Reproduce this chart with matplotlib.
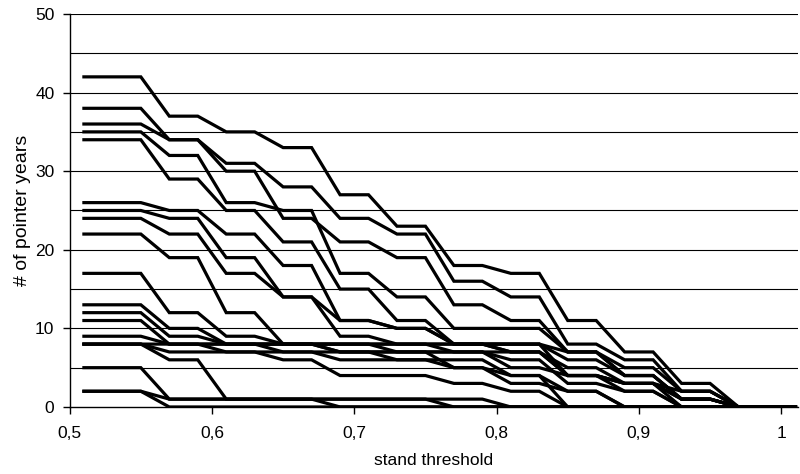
import matplotlib
matplotlib.use("Agg")
import matplotlib.pyplot as plt
import numpy as np

plt.rcParams['font.family'] = ['Liberation Sans', 'DejaVu Sans']

# stand threshold values (x)
threshold = [0.51, 0.53, 0.55, 0.57, 0.59, 0.61, 0.63, 0.65, 0.67, 0.69, 0.71, 0.73, 0.75,
             0.77, 0.79, 0.81, 0.83, 0.85, 0.87, 0.89, 0.91, 0.93, 0.95, 0.97, 0.99, 1.01]

# number of pointer years, one list per site
s01 = [42, 42, 42, 37, 37, 35, 35, 33, 33, 27, 27, 23, 23, 18, 18, 17, 17, 11, 11, 7, 7, 3, 3, 0, 0, 0]
s02 = [38, 38, 38, 34, 34, 31, 31, 28, 28, 24, 24, 22, 22, 16, 16, 14, 14, 8, 8, 6, 6, 2, 2, 0, 0, 0]
s03 = [36, 36, 36, 34, 34, 30, 30, 24, 24, 21, 21, 19, 19, 13, 13, 11, 11, 7, 7, 5, 5, 2, 2, 0, 0, 0]
s04 = [35, 35, 35, 32, 32, 26, 26, 25, 25, 17, 17, 14, 14, 10, 10, 10, 10, 7, 7, 4, 4, 1, 1, 0, 0, 0]
s05 = [34, 34, 34, 29, 29, 25, 25, 21, 21, 15, 15, 11, 11, 8, 8, 8, 8, 4, 4, 3, 3, 0, 0, 0, 0, 0]
s06 = [26, 26, 26, 25, 25, 22, 22, 18, 18, 11, 11, 10, 10, 8, 8, 8, 8, 6, 6, 4, 4, 1, 1, 0, 0, 0]
s07 = [25, 25, 25, 24, 24, 19, 19, 14, 14, 9, 9, 8, 8, 8, 8, 7, 7, 4, 4, 3, 3, 1, 1, 0, 0, 0]
s08 = [24, 24, 24, 22, 22, 17, 17, 14, 14, 11, 11, 10, 10, 8, 8, 8, 8, 7, 7, 4, 4, 1, 1, 0, 0, 0]
s09 = [22, 22, 22, 19, 19, 12, 12, 8, 8, 8, 8, 8, 8, 8, 8, 7, 7, 5, 5, 3, 3, 2, 2, 0, 0, 0]
s10 = [17, 17, 17, 12, 12, 9, 9, 8, 8, 8, 8, 8, 8, 7, 7, 7, 7, 4, 4, 2, 2, 0, 0, 0, 0, 0]
s11 = [13, 13, 13, 10, 10, 8, 8, 8, 8, 8, 8, 7, 7, 7, 7, 6, 6, 3, 3, 2, 2, 0, 0, 0, 0, 0]
s12 = [12, 12, 12, 9, 9, 8, 8, 8, 8, 7, 7, 7, 7, 7, 7, 5, 5, 4, 4, 3, 3, 1, 1, 0, 0, 0]
s13 = [11, 11, 11, 8, 8, 8, 8, 7, 7, 7, 7, 6, 6, 6, 6, 4, 4, 2, 2, 0, 0, 0, 0, 0, 0, 0]
s14 = [9, 9, 9, 8, 8, 8, 8, 8, 8, 7, 7, 7, 7, 5, 5, 4, 4, 0, 0, 0, 0, 0, 0, 0, 0, 0]
s15 = [8, 8, 8, 8, 8, 7, 7, 7, 7, 6, 6, 6, 6, 5, 5, 3, 3, 2, 2, 0, 0, 0, 0, 0, 0, 0]
s16 = [8, 8, 8, 7, 7, 7, 7, 6, 6, 4, 4, 4, 4, 3, 3, 2, 2, 0, 0, 0, 0, 0, 0, 0, 0, 0]
s17 = [8, 8, 8, 6, 6, 1, 1, 1, 1, 1, 1, 1, 1, 1, 1, 0, 0, 0, 0, 0, 0, 0, 0, 0, 0, 0]
s18 = [5, 5, 5, 1, 1, 1, 1, 1, 1, 0, 0, 0, 0, 0, 0, 0, 0, 0, 0, 0, 0, 0, 0, 0, 0, 0]
s19 = [2, 2, 2, 1, 1, 1, 1, 1, 1, 1, 1, 1, 1, 0, 0, 0, 0, 0, 0, 0, 0, 0, 0, 0, 0, 0]
s20 = [2, 2, 2, 0, 0, 0, 0, 0, 0, 0, 0, 0, 0, 0, 0, 0, 0, 0, 0, 0, 0, 0, 0, 0, 0, 0]

series = [s01, s02, s03, s04, s05, s06, s07, s08, s09, s10,
          s11, s12, s13, s14, s15, s16, s17, s18, s19, s20]

x_ticks = [0.5, 0.6, 0.7, 0.8, 0.9, 1.0]
x_labels = ['0,5', '0,6', '0,7', '0,8', '0,9', '1']
y_ticks = [0, 10, 20, 30, 40, 50]

fig = plt.figure(figsize=(8, 4.74), dpi=100)
ax = fig.add_axes([0.0871, 0.1414, 0.9104, 0.8291])

# horizontal gridlines every 5
for g in range(5, 51, 5):
    ax.axhline(g, color='black', lw=0.8, zorder=1)

for s in series:
    ax.plot(threshold, s, color='black', lw=2.3, solid_joinstyle='miter', zorder=3)

ax.set_xlim(0.5, 1.0118)
ax.set_ylim(0, 50)
ax.set_xticks(x_ticks)
ax.set_xticklabels(x_labels)
ax.set_yticks(y_ticks)

ax.spines['top'].set_visible(False)
ax.spines['right'].set_visible(False)
ax.spines['left'].set_linewidth(1.0)
ax.spines['bottom'].set_linewidth(1.0)
ax.tick_params(direction='out', length=5, width=1, labelsize=12.5)
ax.tick_params(axis='x', pad=9)
ax.tick_params(axis='y', pad=6)

ax.set_xlabel('stand threshold', fontsize=12.5, labelpad=8)
ax.set_ylabel('# of pointer years', fontsize=14, labelpad=3)

fig.savefig('out.png', dpi=100)
